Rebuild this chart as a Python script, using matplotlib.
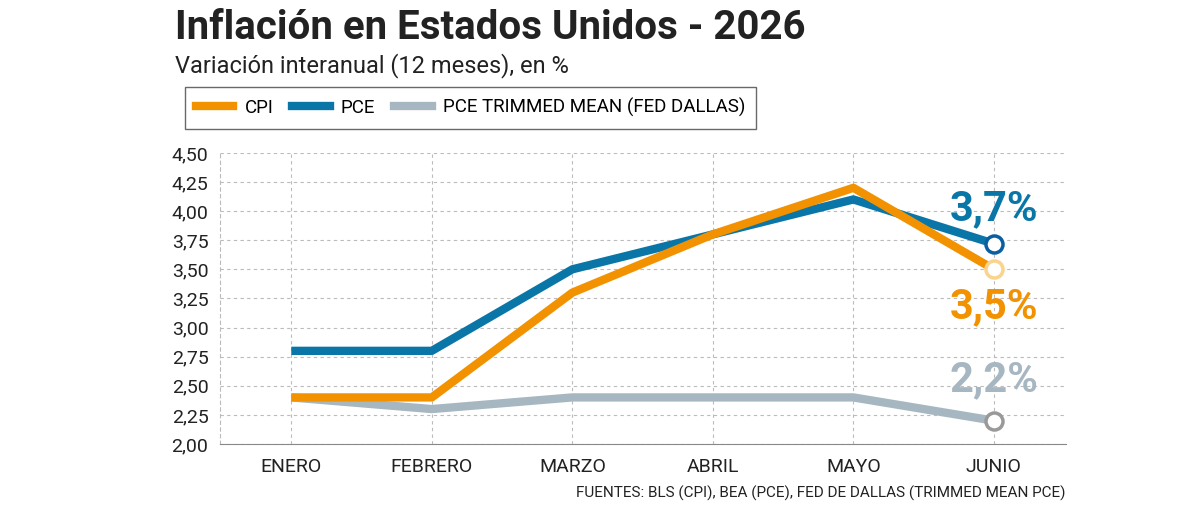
import matplotlib.pyplot as plt
from matplotlib.lines import Line2D

months = ["ENERO", "FEBRERO", "MARZO", "ABRIL", "MAYO", "JUNIO"]
cpi = [2.4, 2.4, 3.3, 3.8, 4.2, 3.5]
pce = [2.8, 2.8, 3.5, 3.8, 4.1, 3.72]
trimmed = [2.4, 2.3, 2.4, 2.4, 2.4, 2.2]
yticks = [2.0, 2.25, 2.5, 2.75, 3.0, 3.25, 3.5, 3.75, 4.0, 4.25, 4.5]

orange = "#f39200"
blue = "#0a76a8"
grey = "#a7b7c1"

plt.rcParams['font.family'] = ['Roboto', 'DejaVu Sans']

fig = plt.figure(figsize=(12, 5.13), dpi=100)
ax = fig.add_axes([0.183, 0.1345, 0.705, 0.5675])
x = range(len(months))

ax.plot(x, trimmed, color=grey, lw=6, solid_capstyle='butt', zorder=3)
ax.plot(x, pce, color=blue, lw=6, solid_capstyle='butt', zorder=4)
ax.plot(x, cpi, color=orange, lw=6, solid_capstyle='butt', zorder=5)

ax.scatter([5], [pce[-1]], s=150, facecolor="white", edgecolor="#0b5fa0", lw=2.5, zorder=6)
ax.scatter([5], [cpi[-1]], s=150, facecolor="white", edgecolor="#fcd38a", lw=2.5, zorder=6)
ax.scatter([5], [trimmed[-1]], s=150, facecolor="white", edgecolor="#999999", lw=2.5, zorder=6)

lab = dict(fontsize=30, fontweight='bold', ha='center', va='center', zorder=7)
ax.text(5, 4.02, "3,7%", color=blue, **lab)
ax.text(5, 3.18, "3,5%", color=orange, **lab)
ax.text(5, 2.55, "2,2%", color=grey, **lab)

ax.set_xlim(-0.51, 5.51)
ax.set_ylim(2.0, 4.5)
ax.set_xticks(list(x))
ax.set_xticklabels(months)
ax.set_yticks(yticks)
ax.set_yticklabels([f"{v:.2f}".replace(".", ",") for v in yticks])
ax.tick_params(length=0, labelsize=14, colors="#222222", pad=8)
ax.tick_params(axis='x', pad=10)
ax.grid(True, ls=(0, (3, 3)), color="#bbbbbb", lw=0.8)
for s in ["top", "right"]:
    ax.spines[s].set_visible(False)
ax.spines["left"].set_linestyle((0, (3, 3)))
ax.spines["left"].set_color("#bbbbbb")
ax.spines["bottom"].set_color("#888888")

fig.text(0.146, 0.945, "Inflación en Estados Unidos - 2026", fontsize=29,
         fontweight='bold', color="#222222", va='center')
fig.text(0.146, 0.872, "Variación interanual (12 meses), en %", fontsize=17,
         color="#222222", va='center')

handles = [Line2D([], [], color=orange, lw=6),
           Line2D([], [], color=blue, lw=6),
           Line2D([], [], color=grey, lw=6)]
leg = fig.legend(handles, ["CPI", "PCE", "PCE TRIMMED MEAN (FED DALLAS)"],
                 loc='center left', bbox_to_anchor=(0.146, 0.79), ncol=3,
                 frameon=True, fancybox=False, fontsize=13.5, handlelength=2.0,
                 columnspacing=1.0, borderpad=0.6, handletextpad=0.6)
leg.get_frame().set_edgecolor("#444444")
leg.get_frame().set_linewidth(1)

fig.text(0.888, 0.03, "FUENTES: BLS (CPI), BEA (PCE), FED DE DALLAS (TRIMMED MEAN PCE)",
         fontsize=11, ha='right', color="#222222")

fig.savefig("out.png", dpi=100)
